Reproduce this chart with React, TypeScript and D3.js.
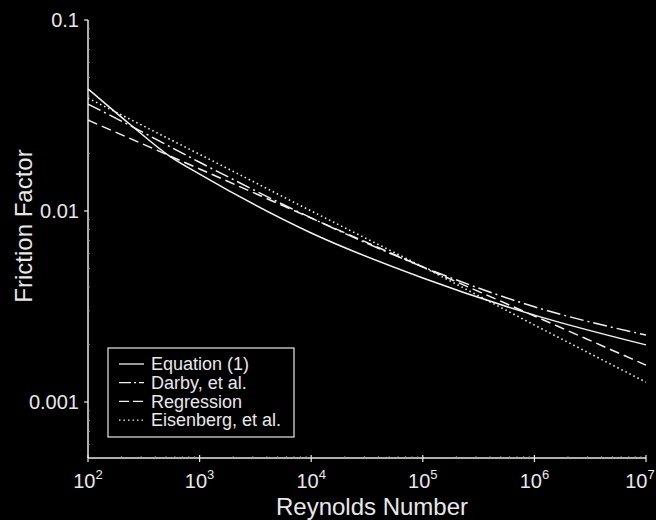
import React, { useEffect, useRef } from 'react';
import * as d3 from 'd3';

// values (Reynolds number vs friction factor)
const eqRe = [100, 230, 550, 1e3, 1e4, 1e5, 1e6, 1e7];
const eqF = [0.0436, 0.0289, 0.0192, 0.0156, 0.00767, 0.00446, 0.00285, 0.00199];

const darbyRe = [100, 230, 1e3, 1e4, 1e5, 1e6, 1e7];
const darbyF = [0.0363, 0.0283, 0.018, 0.0092, 0.0051, 0.00315, 0.00224];

const regRe = [100, 1e3, 1e4, 1e5, 1e6, 1e7];
const regF = [0.0299, 0.0166, 0.00918, 0.00509, 0.00282, 0.00156];

const eisRe = [100, 1e3, 1e4, 1e5, 1e6, 1e7];
const eisF = [0.039, 0.0198, 0.01, 0.0051, 0.00253, 0.00127];

const seriesNames = ['Equation (1)', 'Darby, et al.', 'Regression', 'Eisenberg, et al.'];
const dashes = ['none', '14,4,2,4', '10,5', '1.5,3'];

const xTickExp = [2, 3, 4, 5, 6, 7];
const yTickVals = [0.1, 0.01, 0.001];
const yTickLabels = ['0.1', '0.01', '0.001'];

const App = () => {
  const ref = useRef(null);

  useEffect(() => {
    document.body.style.margin = '0';
    const svg = d3.select(ref.current);
    svg.selectAll('*').remove();

    const width = 656;
    const height = 520;
    const fg = '#e8e8e8';
    const font = '"Liberation Sans", Arial, sans-serif';

    svg.attr('width', width).attr('height', height);
    svg.append('rect').attr('width', width).attr('height', height).attr('fill', '#000');

    const x = d3.scaleLog().domain([1e2, 1e7]).range([88, 646]);
    const y = d3.scaleLog().domain([0.1, 0.000509]).range([20, 458]);

    // axes
    svg.append('line')
      .attr('x1', 88).attr('x2', 88).attr('y1', 20).attr('y2', 458)
      .attr('stroke', fg).attr('stroke-width', 1.5);
    svg.append('line')
      .attr('x1', 88).attr('x2', 646).attr('y1', 458).attr('y2', 458)
      .attr('stroke', fg).attr('stroke-width', 1.5);

    // minor ticks
    const minorX = [];
    for (let e = 2; e < 7; e++) for (let k = 2; k < 10; k++) minorX.push(k * 10 ** e);
    svg.selectAll('.mx').data(minorX).enter().append('line')
      .attr('x1', d => x(d)).attr('x2', d => x(d))
      .attr('y1', 458).attr('y2', 456)
      .attr('stroke', '#999').attr('stroke-width', 0.8);
    const minorY = [];
    for (let e = -4; e < -1; e++) for (let k = 2; k < 10; k++) minorY.push(k * 10 ** e);
    svg.selectAll('.my').data(minorY.filter(d => d >= 0.000509)).enter().append('line')
      .attr('x1', 88).attr('x2', 90)
      .attr('y1', d => y(d)).attr('y2', d => y(d))
      .attr('stroke', '#999').attr('stroke-width', 0.8);

    // major ticks + labels
    xTickExp.forEach((e, i) => {
      const px = x(10 ** e);
      svg.append('line')
        .attr('x1', px).attr('x2', px).attr('y1', 455).attr('y2', 462)
        .attr('stroke', fg).attr('stroke-width', 1.2);
      const t = svg.append('text')
        .attr('x', i === xTickExp.length - 1 ? px - 6 : px)
        .attr('y', 488)
        .attr('text-anchor', 'middle')
        .attr('fill', fg)
        .attr('font-family', font)
        .attr('font-size', 20);
      t.append('tspan').text('10');
      t.append('tspan').attr('dy', -9).attr('font-size', 13).text(String(e));
    });

    yTickVals.forEach((v, i) => {
      svg.append('line')
        .attr('x1', 84).attr('x2', 88).attr('y1', y(v)).attr('y2', y(v))
        .attr('stroke', fg).attr('stroke-width', 1.2);
      svg.append('text')
        .attr('x', 79).attr('y', y(v))
        .attr('dy', '0.35em')
        .attr('text-anchor', 'end')
        .attr('fill', fg)
        .attr('font-family', font)
        .attr('font-size', 20)
        .text(yTickLabels[i]);
    });

    svg.append('text')
      .attr('x', 372).attr('y', 515)
      .attr('text-anchor', 'middle')
      .attr('fill', fg)
      .attr('font-family', font)
      .attr('font-size', 24)
      .text('Reynolds Number');

    svg.append('text')
      .attr('transform', 'translate(32,226) rotate(-90)')
      .attr('text-anchor', 'middle')
      .attr('fill', fg)
      .attr('font-family', font)
      .attr('font-size', 24)
      .text('Friction Factor');

    // curves
    const series = [
      { re: eqRe, f: eqF },
      { re: darbyRe, f: darbyF },
      { re: regRe, f: regF },
      { re: eisRe, f: eisF },
    ];
    const line = d3.line()
      .x(d => x(d[0]))
      .y(d => y(d[1]))
      .curve(d3.curveMonotoneX);

    series.forEach((s, i) => {
      svg.append('path')
        .datum(s.re.map((r, j) => [r, s.f[j]]))
        .attr('d', line)
        .attr('fill', 'none')
        .attr('stroke', '#f2f2f2')
        .attr('stroke-width', i === 3 ? 1.6 : 1.5)
        .attr('stroke-dasharray', dashes[i]);
    });

    // legend
    const lg = svg.append('g');
    lg.append('rect')
      .attr('x', 108).attr('y', 348).attr('width', 186).attr('height', 89)
      .attr('fill', '#000').attr('stroke', fg).attr('stroke-width', 1.2);
    seriesNames.forEach((name, i) => {
      const cy = 364 + i * 18.7;
      lg.append('line')
        .attr('x1', 119).attr('x2', 144).attr('y1', cy).attr('y2', cy)
        .attr('stroke', '#f2f2f2').attr('stroke-width', 1.3)
        .attr('stroke-dasharray', i === 1 ? '12,3,2,3' : i === 2 ? '10,4' : dashes[i]);
      lg.append('text')
        .attr('x', 151).attr('y', cy).attr('dy', '0.35em')
        .attr('fill', fg)
        .attr('font-family', font)
        .attr('font-size', 18)
        .text(name);
    });
  }, []);

  return <svg ref={ref} style={{ display: 'block' }}></svg>;
};

export default App;
